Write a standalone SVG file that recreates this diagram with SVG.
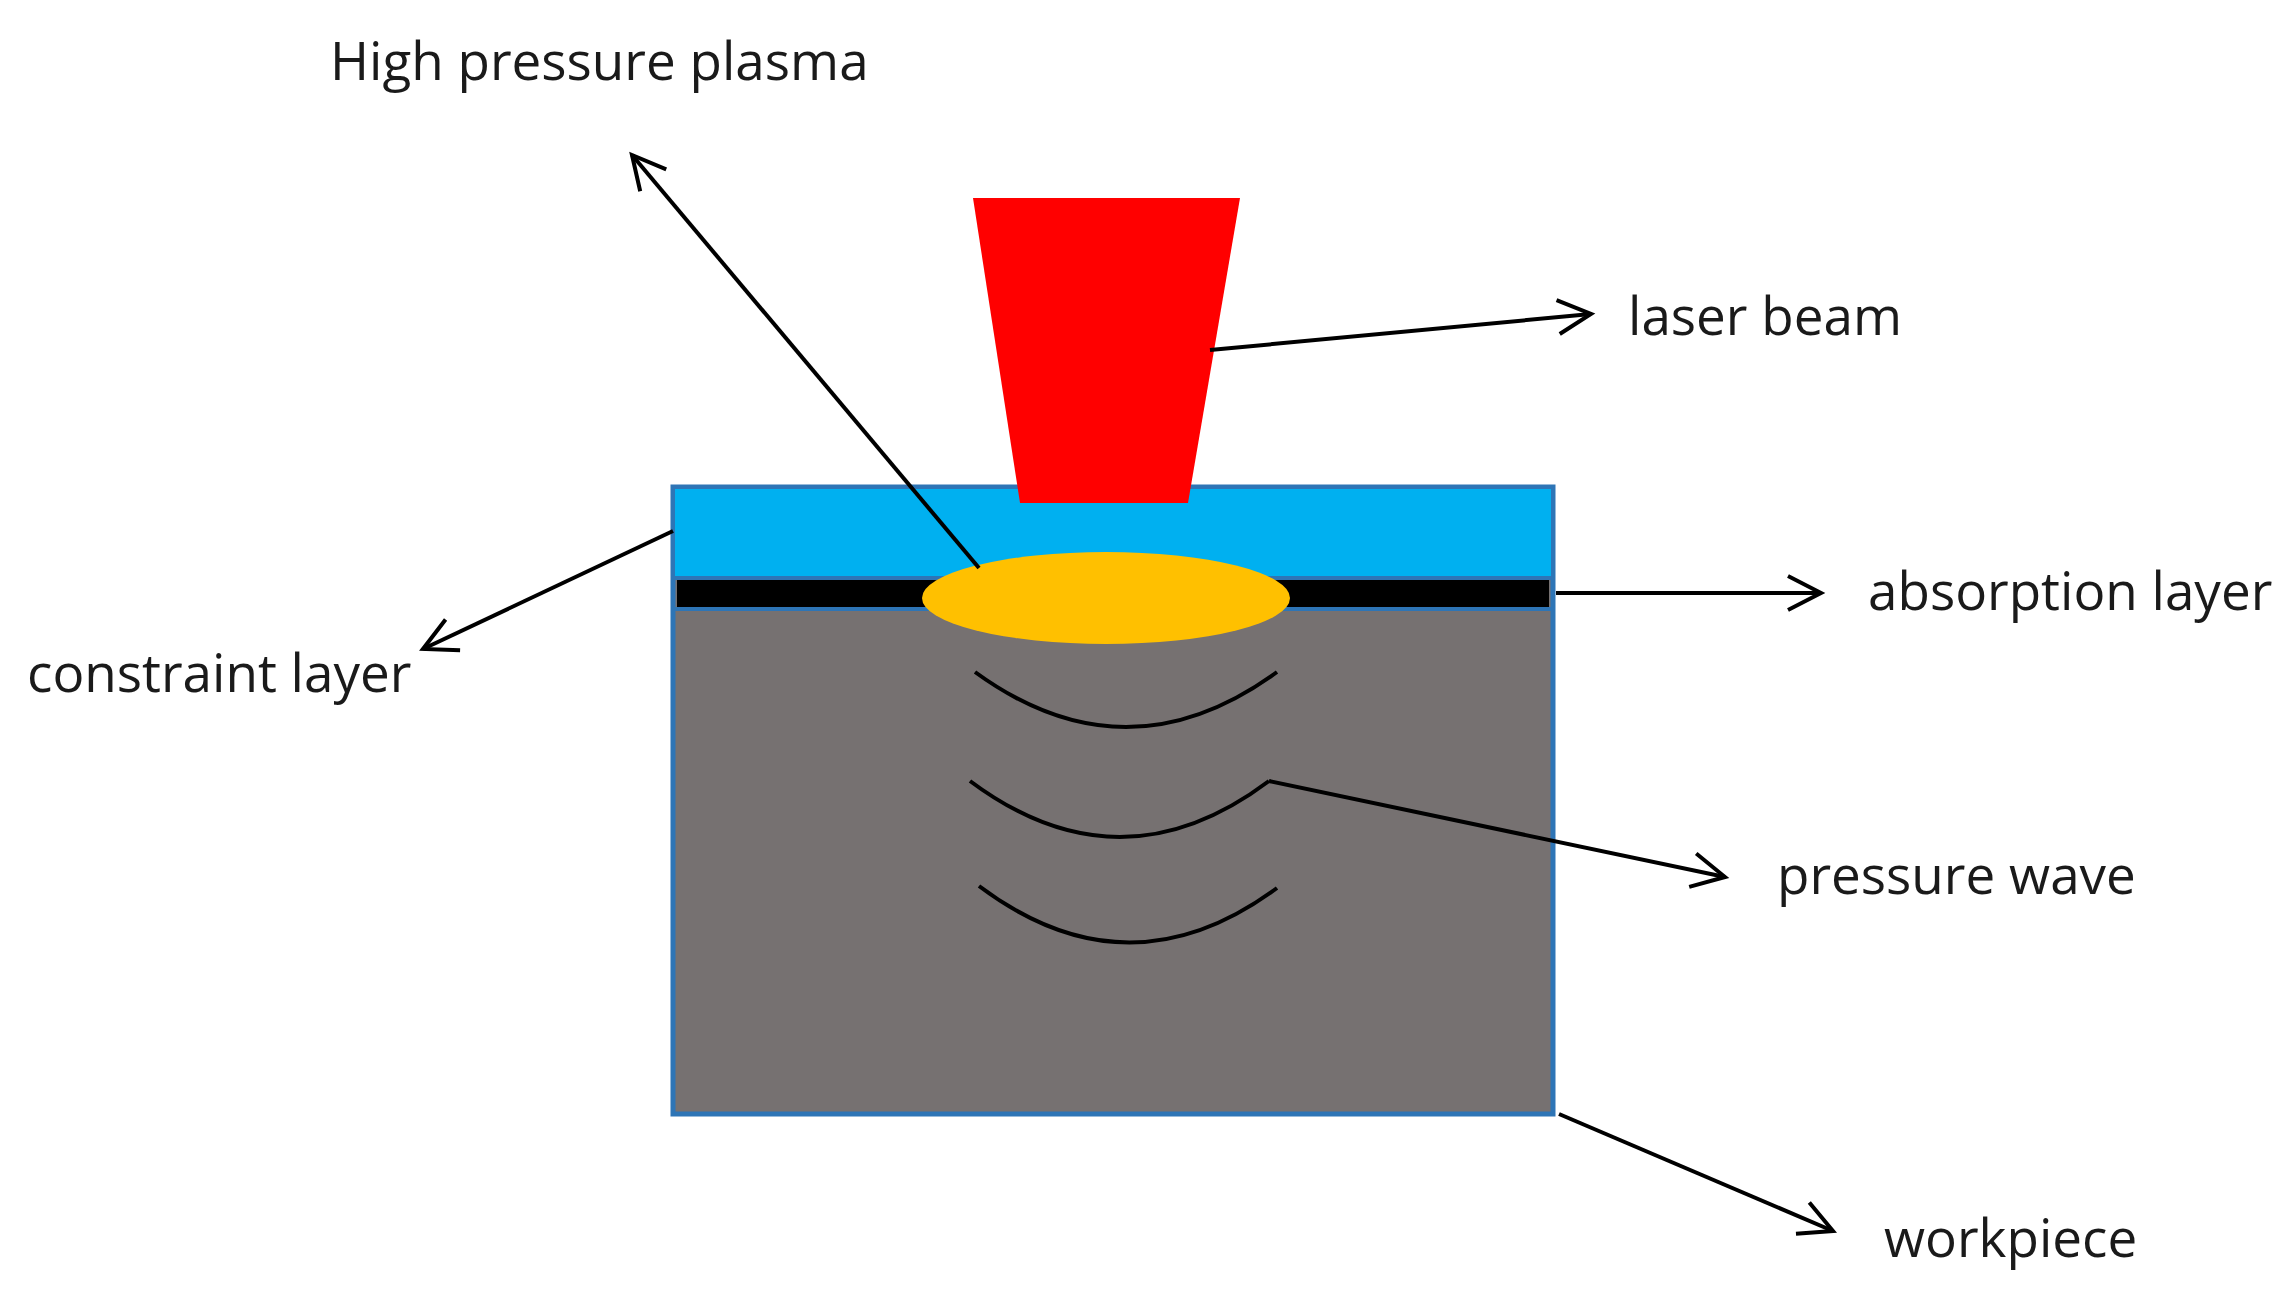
<svg xmlns="http://www.w3.org/2000/svg" width="2296" height="1310" viewBox="0 0 2296 1310">
<style>
.lbl{font-family:"Open Sans","Liberation Sans",sans-serif;font-size:53px;fill:#1a1a1a}
.con{stroke:#000;stroke-width:4;fill:none;marker-end:url(#ah)}
.wave{stroke:#000;stroke-width:4;fill:none}
</style>
<defs>
<marker id="ah" markerWidth="14" markerHeight="14" refX="11" refY="7" orient="auto" markerUnits="userSpaceOnUse" viewBox="0 0 14 14" overflow="visible">
<path d="M-22,-10 L11,7 L-22,24" fill="none" stroke="#000" stroke-width="4"/>
</marker>
</defs>
<rect width="2296" height="1310" fill="#fff"/>
<g transform="translate(-4,-2)">
<g id="workpiece">
<rect x="677" y="489" width="880" height="627" fill="#767171" stroke="#2e75b6" stroke-width="5"/>
</g>
<g id="constraint-layer">
<rect x="679" y="491" width="876" height="87" fill="#00b0f0"/>
<rect x="679" y="578" width="876" height="4" fill="#2e75b6"/>
</g>
<g id="absorption-layer">
<rect x="681" y="582" width="872" height="27" fill="#000"/>
<rect x="679" y="609" width="876" height="4" fill="#2e75b6"/>
</g>
<g id="laser-beam">
<polygon points="977,200 1244,200 1192,505 1024,505" fill="#ff0000"/>
</g>
<g id="plasma">
<ellipse cx="1110" cy="600" rx="184" ry="46" fill="#ffc000"/>
</g>
<g id="pressure-wave">
<path class="wave" d="M979,674 Q1130,784 1281,674"/>
<path class="wave" d="M974,783 Q1124,895 1273,783"/>
<path class="wave" d="M983,888 Q1132,1000 1281,890"/>
</g>
<g id="connectors">
<line class="con" x1="983" y1="570" x2="636" y2="157"/>
<line class="con" x1="1214" y1="352" x2="1595" y2="316"/>
<line class="con" x1="677" y1="533" x2="427" y2="651"/>
<line class="con" x1="1560" y1="595" x2="1825" y2="595"/>
<line class="con" x1="1273" y1="783" x2="1729" y2="879"/>
<line class="con" x1="1563" y1="1116" x2="1837" y2="1233"/>
</g>
</g>
<g id="labels">
<text class="lbl" x="330" y="80">High pressure plasma</text>
<text class="lbl" x="1628" y="335">laser beam</text>
<text class="lbl" x="1868" y="610">absorption layer</text>
<text class="lbl" x="27" y="692">constraint layer</text>
<text class="lbl" x="1777" y="894">pressure wave</text>
<text class="lbl" x="1884" y="1257">workpiece</text>
</g>
</svg>
